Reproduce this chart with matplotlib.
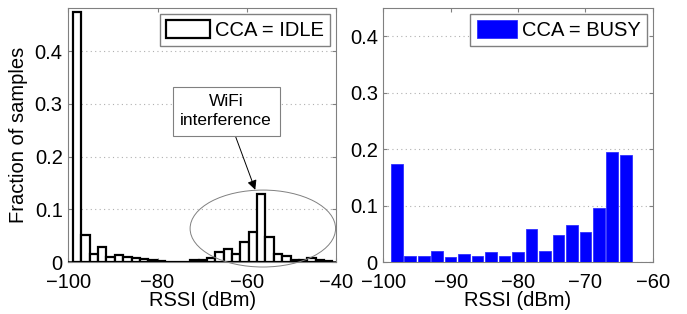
"""Two-panel RSSI histogram: CCA idle vs CCA busy."""

import matplotlib
matplotlib.use("Agg")
import matplotlib.pyplot as plt
from matplotlib.patches import Ellipse

plt.rcParams["font.family"] = ["Liberation Sans", "DejaVu Sans"]

# CCA = IDLE histogram (bin centers, dBm) and fraction of samples
idle_centers = [-98.0, -96.125, -94.25, -92.375, -90.5, -88.625, -86.75, -84.875,
                -83.0, -81.125, -79.25, -77.375, -75.5, -73.625, -71.75, -69.875,
                -68.0, -66.125, -64.25, -62.375, -60.5, -58.625, -56.75, -54.875,
                -53.0, -51.125, -49.25, -47.375, -45.5, -43.625, -41.75]
idle_frac = [0.474, 0.052, 0.016, 0.028, 0.0095, 0.0127, 0.0095, 0.0076,
             0.0063, 0.0044, 0.0025, 0.0, 0.0, 0.0, 0.004, 0.004,
             0.0076, 0.019, 0.025, 0.016, 0.038, 0.056, 0.129, 0.047,
             0.016, 0.011, 0.0044, 0.003, 0.008, 0.003, 0.001]

# CCA = BUSY histogram
busy_centers = [-100, -98, -96, -94, -92, -90, -88, -86, -84, -82, -80,
                -78, -76, -74, -72, -70, -68, -66, -64, -62, -60]
busy_frac = [0.0, 0.174, 0.010, 0.010, 0.019, 0.008, 0.0135, 0.010, 0.0176, 0.010,
             0.0176, 0.059, 0.019, 0.048, 0.066, 0.053, 0.096, 0.194, 0.190, 0.0, 0.0]

y_ticks = [0, 0.1, 0.2, 0.3, 0.4]
y_ticklabels = ["0", "0.1", "0.2", "0.3", "0.4"]

FS = 14.5
fig = plt.figure(figsize=(6.87, 3.14), dpi=100)
ax1 = fig.add_axes([0.0994, 0.1656, 0.3897, 0.809])
ax2 = fig.add_axes([0.558, 0.1656, 0.392, 0.809])


def style(ax, xticks, ylim):
    ax.set_xticks(xticks)
    ax.set_xticklabels([f"\u2212{abs(t)}" for t in xticks])
    ax.set_yticks(y_ticks)
    ax.set_yticklabels(y_ticklabels)
    ax.set_ylim(*ylim)
    ax.tick_params(direction="in", length=3, labelsize=FS, top=True, right=True,
                   color="#808080")
    ax.tick_params(axis="x", pad=8)
    ax.tick_params(axis="y", pad=4)
    for s in ax.spines.values():
        s.set_color("#808080")
        s.set_linewidth(0.8)
    ax.yaxis.grid(True, linestyle=(0, (1, 3)), color="#b0b0b0", lw=0.8)
    ax.set_axisbelow(True)
    ax.set_xlabel("RSSI (dBm)", fontsize=FS, labelpad=-1)


# left panel
ax1.bar(idle_centers, idle_frac, width=1.875, facecolor="white", edgecolor="black",
        lw=1.6, label="CCA = IDLE", zorder=3)
ax1.axhline(0, color="black", lw=1.8, zorder=4)
ax1.set_xlim(-100, -40)
style(ax1, [-100, -80, -60, -40], (0, 0.482))
ax1.set_ylabel("Fraction of samples", fontsize=FS, labelpad=5)
ax1.add_patch(Ellipse((-56.4, 0.0635), 32.6, 0.146, fill=False, edgecolor="#808080",
                      lw=0.7, clip_on=False, zorder=5))
ax1.annotate("WiFi\ninterference", xy=(-58.1, 0.137), xytext=(-64.6, 0.286),
             ha="center", va="center", fontsize=12.5, linespacing=1.3,
             bbox=dict(boxstyle="square,pad=0.45", fc="white", ec="#808080", lw=0.8),
             arrowprops=dict(arrowstyle="-|>", color="black", lw=0.7,
                             mutation_scale=14, shrinkA=0, shrinkB=0),
             zorder=6)
leg1 = ax1.legend(loc="upper right", fontsize=FS, handlelength=2.2, handleheight=1.0,
                  handletextpad=0.25, borderpad=0.3, borderaxespad=0.3,
                  fancybox=False, framealpha=1)
leg1.get_frame().set_edgecolor("#808080")

# right panel
ax2.bar(busy_centers, busy_frac, width=1.72, facecolor="#0000ff", edgecolor="#3030ff",
        lw=0.6, label="CCA = BUSY", zorder=3)
ax2.set_xlim(-100, -60)
style(ax2, [-100, -90, -80, -70, -60], (0, 0.45))
leg2 = ax2.legend(loc="upper right", fontsize=FS, handlelength=2.0, handleheight=1.0,
                  handletextpad=0.25, borderpad=0.3, borderaxespad=0.3,
                  fancybox=False, framealpha=1)
leg2.get_frame().set_edgecolor("#808080")

fig.savefig("out.png", dpi=100)
